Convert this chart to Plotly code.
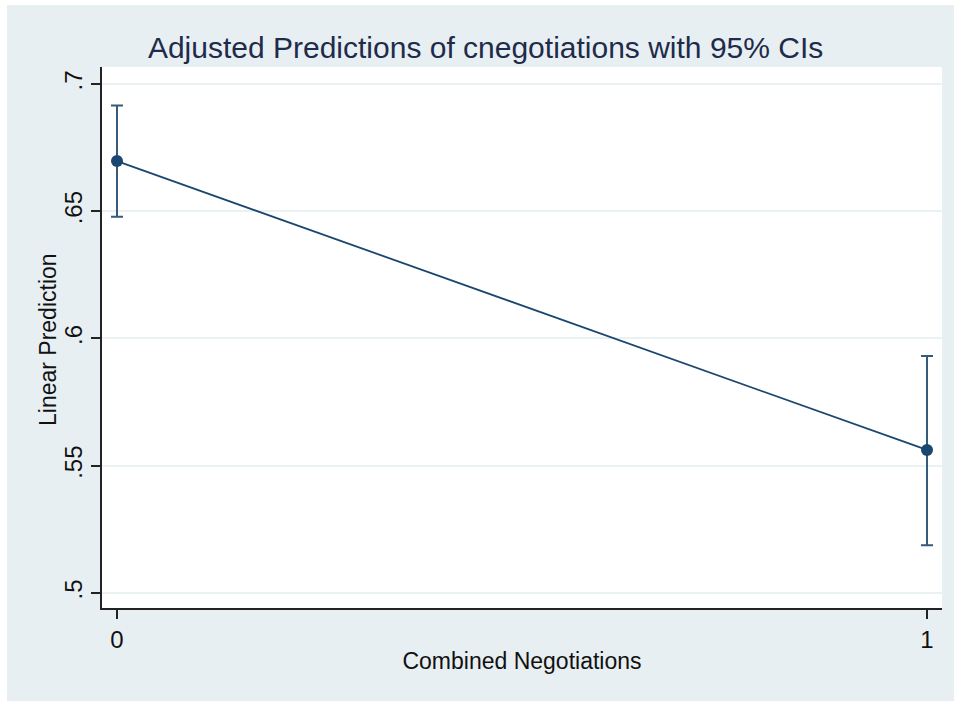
import plotly.graph_objects as go

# Adjusted predictions (margins) of the linear model by combined negotiations
categories = [0, 1]
predictions = [0.6697, 0.5562]
ci_lower = [0.6478, 0.5188]
ci_upper = [0.6916, 0.5931]

y_tickvals = [0.5, 0.55, 0.6, 0.65, 0.7]
y_ticktext = [".5", ".55", ".6", ".65", ".7"]
x_tickvals = [0, 1]
x_ticktext = ["0", "1"]

navy = "#1a476f"
bar_color = "#355a7c"
bg = "#e8eff2"
font_family = "Liberation Sans, Arial, Helvetica, sans-serif"

err_plus = [u - p for u, p in zip(ci_upper, predictions)]
err_minus = [p - l for p, l in zip(predictions, ci_lower)]

fig = go.Figure()
fig.add_trace(go.Scatter(
    x=categories,
    y=predictions,
    mode="lines+markers",
    line=dict(color=navy, width=1.8),
    marker=dict(color=navy, size=12),
    error_y=dict(
        type="data",
        symmetric=False,
        array=err_plus,
        arrayminus=err_minus,
        color=bar_color,
        thickness=2,
        width=6,
    ),
    showlegend=False,
    hoverinfo="skip",
))

fig.update_layout(
    width=954,
    height=701,
    margin=dict(l=102, r=12, t=67, b=93),
    paper_bgcolor=bg,
    plot_bgcolor="white",
    font=dict(family=font_family, color="#111111", size=23),
    title=dict(
        text="Adjusted Predictions of cnegotiations with 95% CIs",
        x=0.509,
        xanchor="center",
        y=1 - 47 / 701,
        yanchor="middle",
        font=dict(size=30, color="#1e2b4b", family=font_family),
    ),
    xaxis=dict(
        range=[-0.0185, 1.0185],
        tickvals=x_tickvals,
        ticktext=x_ticktext,
        showgrid=False,
        zeroline=False,
        showline=True,
        linecolor="#222222",
        linewidth=1.5,
        ticks="outside",
        ticklen=9,
        tickwidth=1.5,
        tickcolor="#222222",
        tickfont=dict(size=24),
        title=dict(text="Combined Negotiations", standoff=1, font=dict(size=23)),
    ),
    yaxis=dict(
        range=[0.4941, 0.70668],
        tickvals=y_tickvals,
        ticktext=y_ticktext,
        tickangle=-90,
        showgrid=True,
        gridcolor="#eaf1f3",
        gridwidth=2,
        zeroline=False,
        showline=True,
        linecolor="#222222",
        linewidth=1.5,
        ticks="outside",
        ticklen=9,
        tickwidth=1.5,
        tickcolor="#222222",
        tickfont=dict(size=24),
    ),
)

# y-axis title placed just left of the rotated tick labels
fig.add_annotation(
    text="Linear Prediction",
    xref="paper", yref="paper",
    x=(48 - 102) / 840, y=(608 - 340) / 541,
    xanchor="center", yanchor="middle",
    textangle=-90, showarrow=False,
    font=dict(size=23, color="#111111", family=font_family),
)

# thin white frame around the graph region
fig.add_shape(type="rect", xref="paper", yref="paper",
              x0=-0.2, x1=(7 - 102) / 840, y0=-0.3, y1=1.3,
              fillcolor="white", line_width=0, layer="above")
fig.add_shape(type="rect", xref="paper", yref="paper",
              x0=-0.2, x1=1.2, y0=(608 - 5) / 541, y1=1.3,
              fillcolor="white", line_width=0, layer="above")

fig.write_html("out.html")
